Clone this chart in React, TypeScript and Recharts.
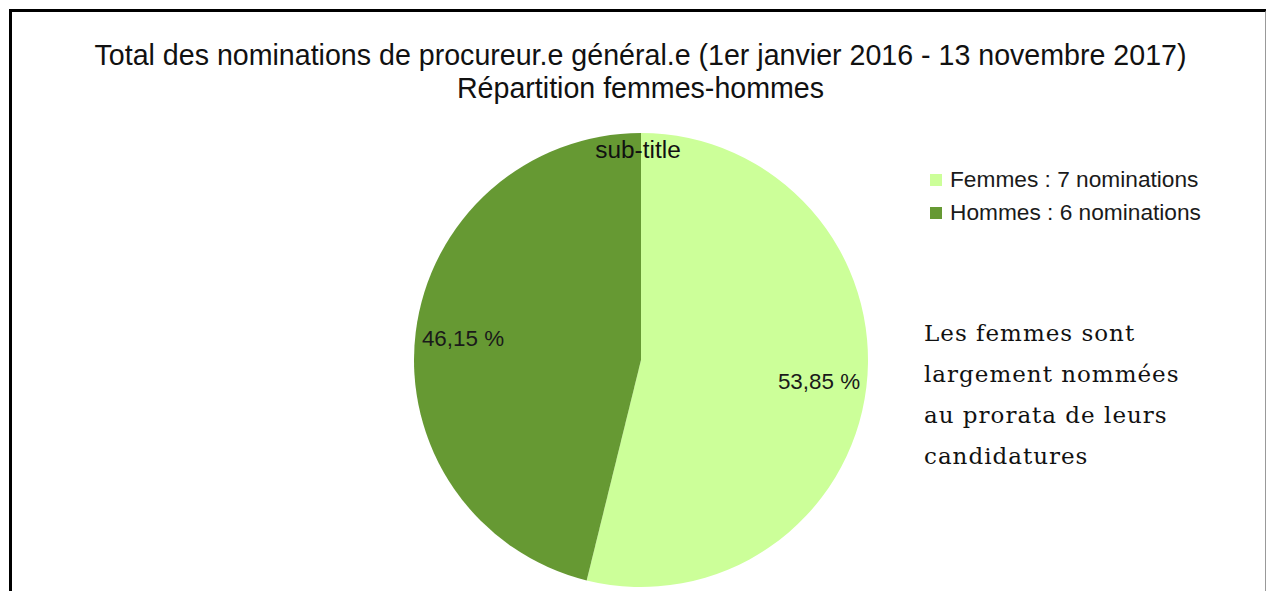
import { PieChart, Pie, Cell, Legend } from "recharts"

const categories = ["Femmes", "Hommes"]
const nominations = [7, 6]
const colors = ["#ccff99", "#669933"]
const titleLines = [
  "Total des nominations de procureur.e général.e (1er janvier 2016 - 13 novembre 2017)",
  "Répartition femmes-hommes",
]
const noteLines = ["Les femmes sont", "largement nommées", "au prorata de leurs", "candidatures"]

const data = categories.map((name, i) => ({ name, value: nominations[i] }))

const RAD = Math.PI / 180

function renderLabel(props: any) {
  const { cx, cy, midAngle, outerRadius, percent } = props
  const r = outerRadius * 0.79
  const x = cx + r * Math.cos(-midAngle * RAD)
  const y = cy + r * Math.sin(-midAngle * RAD)
  const txt = (percent * 100).toFixed(2).replace(".", ",") + " %"
  return (
    <text x={x} y={y} textAnchor="middle" dominantBaseline="central" fill="#1a1a1a"
      style={{ fontFamily: "Liberation Sans, Arial, sans-serif", fontSize: 22.4 }}>
      {txt}
    </text>
  )
}

function renderLegend(props: any) {
  const { payload } = props
  return (
    <div style={{ fontFamily: "Liberation Sans, Arial, sans-serif", fontSize: 22.7, color: "#1a1a1a" }}>
      {payload.map((entry: any, i: number) => (
        <div key={i} style={{ display: "flex", alignItems: "center", height: 33 }}>
          <span style={{ width: 12, height: 12, background: entry.color, marginRight: 8, display: "inline-block" }} />
          <span>{entry.value} : {nominations[i]} nominations</span>
        </div>
      ))}
    </div>
  )
}

export default function App() {
  return (
    <div style={{ position: "absolute", left: 0, top: 0, width: 1266, height: 591, overflow: "hidden", background: "#fff" }}>
      <div style={{ position: "absolute", left: 9, top: 9, width: 1253, height: 700,
        borderTop: "3px solid #000", borderLeft: "3px solid #000", borderRight: "2px solid #999" }} />
      <div style={{ position: "absolute", left: 0, width: 1281, top: 39, textAlign: "center",
        fontFamily: "Liberation Sans, Arial, sans-serif", fontSize: 28.6, lineHeight: "33px", color: "#111" }}>
        {titleLines.map((t, i) => <div key={i}>{t}</div>)}
      </div>
      <div style={{ position: "absolute", left: 0, top: 0 }}>
        <PieChart width={1266} height={591} margin={{ top: 0, right: 0, bottom: 0, left: 0 }}>
          <Pie data={data} dataKey="value" nameKey="name" cx={641} cy={360} outerRadius={227}
            startAngle={90} endAngle={-270} stroke="none" label={renderLabel} labelLine={false}
            isAnimationActive={false}>
            {data.map((d, i) => <Cell key={d.name} fill={colors[i]} />)}
          </Pie>
          <Legend content={renderLegend} layout="vertical" verticalAlign="top" align="right"
            wrapperStyle={{ left: 930, top: 163, width: 320 }} />
        </PieChart>
      </div>
      <div style={{ position: "absolute", left: 0, width: 1276, top: 136, textAlign: "center",
        fontFamily: "Liberation Sans, Arial, sans-serif", fontSize: 24.4, color: "#111" }}>
        sub-title
      </div>
      <div style={{ position: "absolute", left: 924, top: 313, fontFamily: "DejaVu Serif, serif",
        fontSize: 23, lineHeight: "41px", letterSpacing: 1, color: "#111" }}>
        {noteLines.map((t, i) => <div key={i}>{t}</div>)}
      </div>
    </div>
  )
}
